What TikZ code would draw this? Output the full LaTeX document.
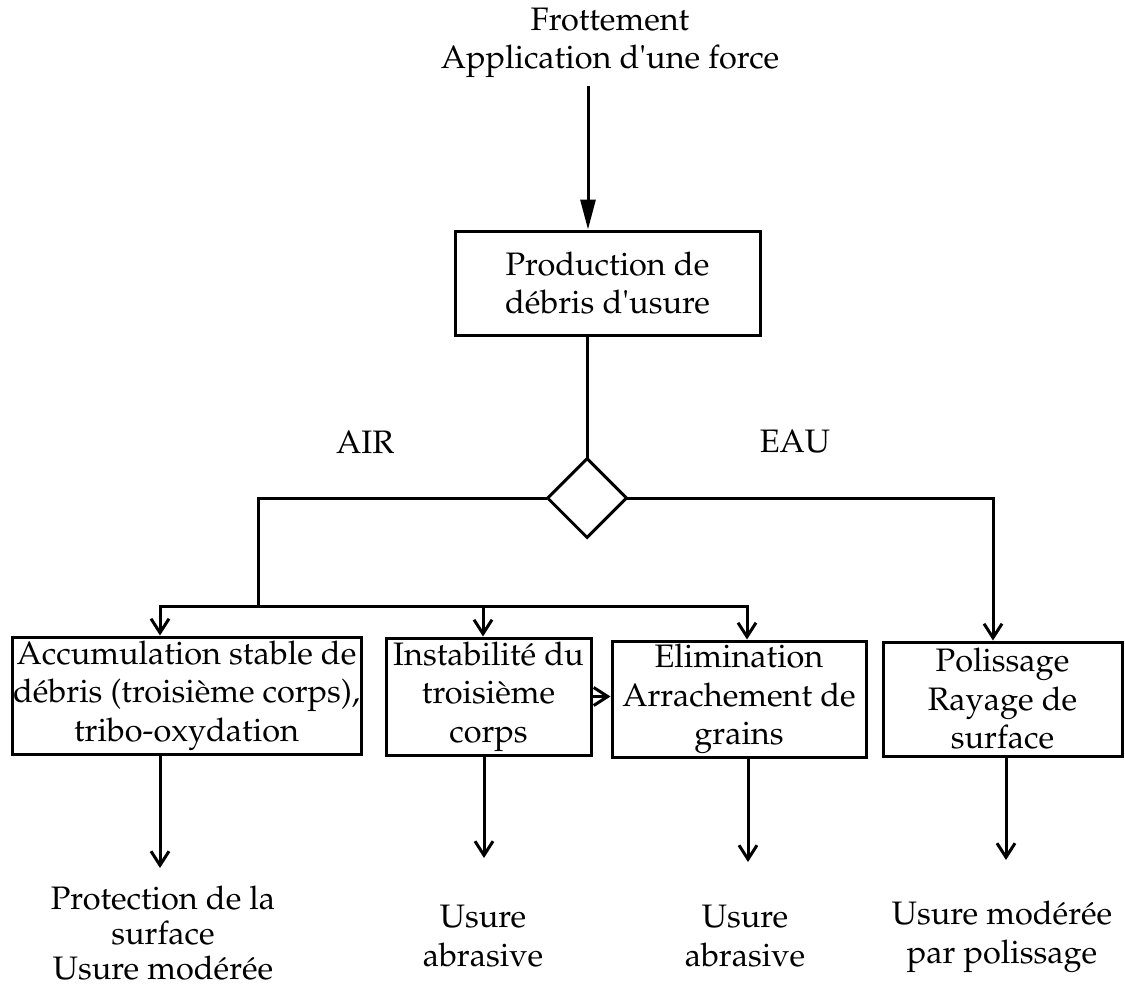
\documentclass[tikz,border=0pt]{standalone}
\usepackage[T1]{fontenc}
\usepackage{mathpazo}
\usetikzlibrary{shapes.geometric,arrows.meta}
\begin{document}
\begin{tikzpicture}[x=1pt,y=-1pt,
  txt/.style={font=\fontsize{32.5}{38.5}\selectfont, align=center, inner sep=0pt},
  tight/.style={font=\fontsize{32.5}{35}\selectfont},
  line/.style={line width=3pt, line cap=rect},
  box/.style={draw, line width=3pt, txt, inner sep=0pt},
  barb/.style={line, -{Straight Barb[length=14pt,width=18pt,line width=3pt]}},
  tri/.style={line, -{Triangle[length=30pt,width=15pt]}}]
\useasboundingbox (0,0) rectangle (1125,990);

% top text
\node[txt] (top) at (610,43) {Frottement\\Application d\textquotesingle une force};

% boxes
\node[box, minimum width=305pt, minimum height=104pt] (prod) at (607.5,283) {Production de\\débris d\textquotesingle usure};
\node[draw, diamond, line width=3pt, minimum width=80pt, minimum height=80pt, inner sep=0pt] (dia) at (587,498) {};

\node[box, minimum width=349pt, minimum height=117pt] (box1) at (186.5,695.5) {Accumulation stable de\\débris (troisième corps),\\tribo-oxydation};
\node[box, minimum width=205pt, minimum height=117pt] (box2) at (488.5,696.5) {Instabilité du\\troisième\\corps};
\node[box, minimum width=254pt, minimum height=116pt] (box3) at (739,699) {Elimination\\Arrachement de\\grains};
\node[box, minimum width=239pt, minimum height=114pt] (box4) at (1002.5,699) {Polissage\\Rayage de\\surface};

% labels
\node[txt] (air) at (365,442) {AIR};
\node[txt] (eau) at (795,442) {EAU};

% bottom texts
\node[txt, tight] (res1) at (163,933) {Protection de la\\surface\\Usure modérée};
\node[txt] (res2) at (483,936) {Usure\\abrasive};
\node[txt] (res3) at (745,936) {Usure\\abrasive};
\node[txt] (res4) at (1002,937) {Usure modérée\\par polissage};

% coordinates
\coordinate (a0) at (588,88);
\coordinate (j1) at (258,606);
\coordinate (b1) at (160,606);
\coordinate (b2) at (483,606);
\coordinate (b3) at (747,606);
\coordinate (r1) at (993,498);
\coordinate (d1) at (160,868);
\coordinate (d2) at (484,858);
\coordinate (d3) at (748,862);
\coordinate (d4) at (1006,860);

% connectors
\draw[tri] (a0) -- (a0 |- prod.north);
\draw[line] (prod.south -| dia.north) -- (dia.north);
\draw[line] (dia.west) -| (j1);
\draw[line] (b1) -- (b3);
\draw[barb] (b1) -- (b1 |- box1.north);
\draw[barb] (b2) -- (b2 |- box2.north);
\draw[barb] (b3) -- (b3 |- box3.north);
\draw[barb] (dia.east) -- (r1) -- (r1 |- box4.north);
\draw[barb] (box2.east) -- (box2.east -| box3.west);
\draw[barb] (d1 |- box1.south) -- (d1);
\draw[barb] (d2 |- box2.south) -- (d2);
\draw[barb] (d3 |- box3.south) -- (d3);
\draw[barb] (d4 |- box4.south) -- (d4);
\end{tikzpicture}
\end{document}
